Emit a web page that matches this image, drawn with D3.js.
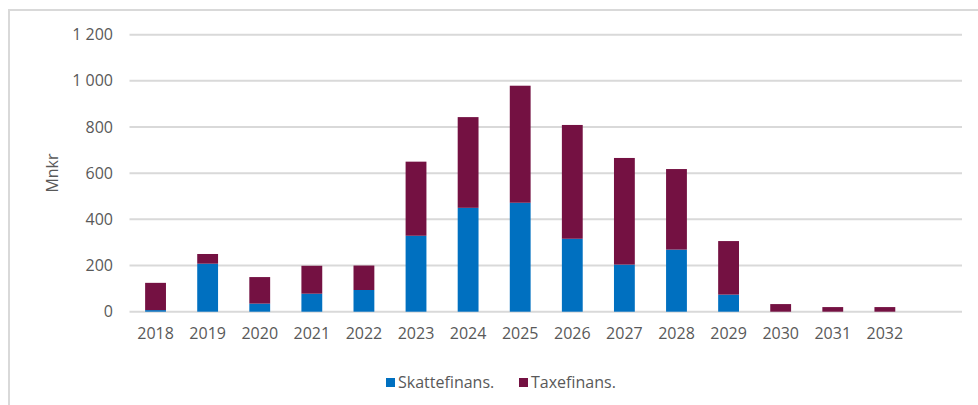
<!DOCTYPE html>
<html lang="no">
<head>
<meta charset="utf-8">
<title>Mnkr</title>
<script src="https://cdn.jsdelivr.net/npm/d3@7"></script>
<style>
  body { margin: 0; background: #fff; }
  text { font-family: "Open Sans", "Noto Sans", sans-serif; fill: #595959; }
</style>
</head>
<body>
<svg id="chart" width="978" height="405"></svg>
<script>
// data
var years = ["2018","2019","2020","2021","2022","2023","2024","2025","2026","2027","2028","2029","2030","2031","2032",""];
var skatte = [7, 208, 35, 78, 94, 329, 450, 472, 316, 204, 269, 74, 0, 0, 0, 0];
var taxe   = [118, 42, 115, 121, 106, 321, 393, 507, 493, 462, 349, 232, 33, 20, 20, 0];
var yTicks = [0, 200, 400, 600, 800, 1000, 1200];
var seriesNames = ["Skattefinans.", "Taxefinans."];
var colors = ["#0070C0", "#741142"];

var svg = d3.select("#chart");

// frame
svg.append("path")
  .attr("d", "M9,405 V10 H978")
  .attr("fill", "none")
  .attr("stroke", "#D9D9D9")
  .attr("stroke-width", 2);

var plotLeft = 129.5, plotRight = 963, plotTop = 34.7, plotBottom = 311.7;

var x = d3.scaleBand().domain(d3.range(years.length)).range([plotLeft, plotRight]).paddingInner(0.6).paddingOuter(0.3);
var y = d3.scaleLinear().domain([0, 1200]).range([plotBottom, plotTop]);

// gridlines
svg.append("g").selectAll("line")
  .data(yTicks).enter().append("line")
  .attr("x1", plotLeft).attr("x2", plotRight - 1)
  .attr("y1", function(d) { return y(d); })
  .attr("y2", function(d) { return y(d); })
  .attr("stroke", "#D9D9D9")
  .attr("stroke-width", 2);

// y tick labels
var fmt = function(d) { return d3.format(",")(d).replace(",", " "); };
svg.append("g").selectAll("text")
  .data(yTicks).enter().append("text")
  .attr("x", 113)
  .attr("y", function(d) { return y(d); })
  .attr("dy", "0.35em")
  .attr("text-anchor", "end")
  .style("font-size", "16px")
  .text(fmt);

// axis title
svg.append("text")
  .attr("transform", "translate(58,173) rotate(-90)")
  .attr("text-anchor", "middle")
  .style("font-size", "16px")
  .text("Mnkr");

// stacked bars
var rows = years.map(function(yr, i) { return { i: i, s: skatte[i], t: taxe[i] }; });
var stack = d3.stack().keys(["s", "t"])(rows);

svg.append("g").selectAll("g")
  .data(stack).enter().append("g")
  .attr("fill", function(d, k) { return colors[k]; })
  .selectAll("rect")
  .data(function(d) { return d; }).enter().append("rect")
  .attr("x", function(d) { return x(d.data.i); })
  .attr("width", x.bandwidth())
  .attr("y", function(d) { return y(d[1]); })
  .attr("height", function(d) { return y(d[0]) - y(d[1]); });

// x labels
svg.append("g").selectAll("text")
  .data(years).enter().append("text")
  .attr("x", function(d, i) { return x(i) + x.bandwidth() / 2; })
  .attr("y", 339)
  .attr("text-anchor", "middle")
  .style("font-size", "16px")
  .text(function(d) { return d; });

// legend
var legendX = [386, 519];
var lg = svg.append("g").selectAll("g")
  .data(seriesNames).enter().append("g")
  .attr("transform", function(d, i) { return "translate(" + legendX[i] + ",378)"; });
lg.append("rect").attr("width", 9).attr("height", 9)
  .attr("fill", function(d, i) { return colors[i]; });
lg.append("text").attr("x", 12).attr("y", 10)
  .style("font-size", "16px")
  .text(function(d) { return d; });
</script>
</body>
</html>
